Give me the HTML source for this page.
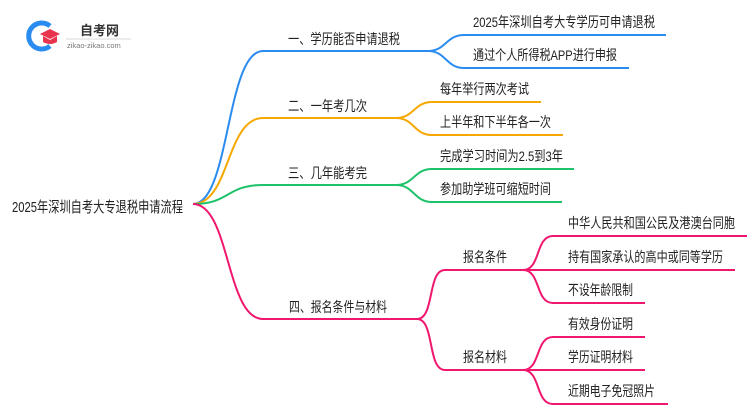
<!DOCTYPE html>
<html><head><meta charset="utf-8"><style>
html,body{margin:0;padding:0;background:#fff;}
svg text{font-family:"Liberation Sans","Noto Sans CJK SC",sans-serif;fill:#222;}
</style></head><body>
<svg width="750" height="410" viewBox="0 0 750 410" xmlns="http://www.w3.org/2000/svg">
<g fill="none" stroke-width="2">
<path d="M193 204 C230 204 226 51 263 51 L428 51" stroke="#2b8cf0"/>
<path d="M428 51 C446 51 446 35 464 35 L666 35" stroke="#2b8cf0"/>
<path d="M428 51 C446 51 446 68 464 68 L629 68" stroke="#2b8cf0"/>
<path d="M193 204 C230 204 226 118 263 118 L396 118" stroke="#f5a800"/>
<path d="M396 118 C414 118 414 102 432 102 L541 102" stroke="#f5a800"/>
<path d="M396 118 C414 118 414 135 432 135 L563 135" stroke="#f5a800"/>
<path d="M193 204 C230 204 226 185 263 185 L396 185" stroke="#1ec26a"/>
<path d="M396 185 C414 185 414 169 432 169 L574 169" stroke="#1ec26a"/>
<path d="M396 185 C414 185 414 202 432 202 L562 202" stroke="#1ec26a"/>
<path d="M193 204 C230 204 226 319 263 319 L417 319" stroke="#f0186e"/>
<path d="M417 319 C435 319 427 270 445 270 L523 270" stroke="#f0186e"/>
<path d="M417 319 C435 319 427 370 445 370 L523 370" stroke="#f0186e"/>
<path d="M523 270 C541 270 535 236 553 236 L747 236" stroke="#f0186e"/>
<path d="M523 270 L735 270" stroke="#f0186e"/>
<path d="M523 270 C541 270 535 303 553 303 L645 303" stroke="#f0186e"/>
<path d="M523 370 C541 370 535 337 553 337 L645 337" stroke="#f0186e"/>
<path d="M523 370 L645 370" stroke="#f0186e"/>
<path d="M523 370 C541 370 535 404 553 404 L668 404" stroke="#f0186e"/>
</g>
<path d="M50 26 A13 13 0 1 0 50 46" fill="none" stroke="#2b8cf0" stroke-width="5"/>
<polygon points="40,34 50,29 60,34 50,39" fill="#e8344e"/>
<path d="M43 36 L43 42 Q50 46 57 42 L57 36 L50 40 Z" fill="#e8344e"/>
<text x="80" y="35" font-size="13" font-weight="bold" style="fill:#333">自考网</text>
<line x1="66" y1="39" x2="131" y2="39" stroke="#ccc" stroke-width="0.7"/>
<text x="67" y="48" font-size="7.5" style="fill:#777">zikao-zikao.com</text>
<g font-size="14" lengthAdjust="spacingAndGlyphs">
<text x="12" y="212" font-size="15" textLength="171" lengthAdjust="spacingAndGlyphs">2025年深圳自考大专退税申请流程</text>
<text x="288" y="44" textLength="112" lengthAdjust="spacingAndGlyphs">一、学历能否申请退税</text>
<text x="288" y="111" textLength="79" lengthAdjust="spacingAndGlyphs">二、一年考几次</text>
<text x="288" y="178" textLength="79" lengthAdjust="spacingAndGlyphs">三、几年能考完</text>
<text x="289" y="312" textLength="98" lengthAdjust="spacingAndGlyphs">四、报名条件与材料</text>
<text x="473" y="27" textLength="182" lengthAdjust="spacingAndGlyphs">2025年深圳自考大专学历可申请退税</text>
<text x="473" y="60" textLength="144" lengthAdjust="spacingAndGlyphs">通过个人所得税APP进行申报</text>
<text x="440" y="94" textLength="89" lengthAdjust="spacingAndGlyphs">每年举行两次考试</text>
<text x="440" y="127" textLength="111" lengthAdjust="spacingAndGlyphs">上半年和下半年各一次</text>
<text x="440" y="161" textLength="123" lengthAdjust="spacingAndGlyphs">完成学习时间为2.5到3年</text>
<text x="440" y="194" textLength="111" lengthAdjust="spacingAndGlyphs">参加助学班可缩短时间</text>
<text x="463" y="262" textLength="44" lengthAdjust="spacingAndGlyphs">报名条件</text>
<text x="463" y="362" textLength="44" lengthAdjust="spacingAndGlyphs">报名材料</text>
<text x="568" y="228" textLength="167" lengthAdjust="spacingAndGlyphs">中华人民共和国公民及港澳台同胞</text>
<text x="568" y="262" textLength="155" lengthAdjust="spacingAndGlyphs">持有国家承认的高中或同等学历</text>
<text x="568" y="295" textLength="65" lengthAdjust="spacingAndGlyphs">不设年龄限制</text>
<text x="568" y="329" textLength="65" lengthAdjust="spacingAndGlyphs">有效身份证明</text>
<text x="568" y="362" textLength="65" lengthAdjust="spacingAndGlyphs">学历证明材料</text>
<text x="568" y="396" textLength="87" lengthAdjust="spacingAndGlyphs">近期电子免冠照片</text>
</g>
</svg>
</body></html>
